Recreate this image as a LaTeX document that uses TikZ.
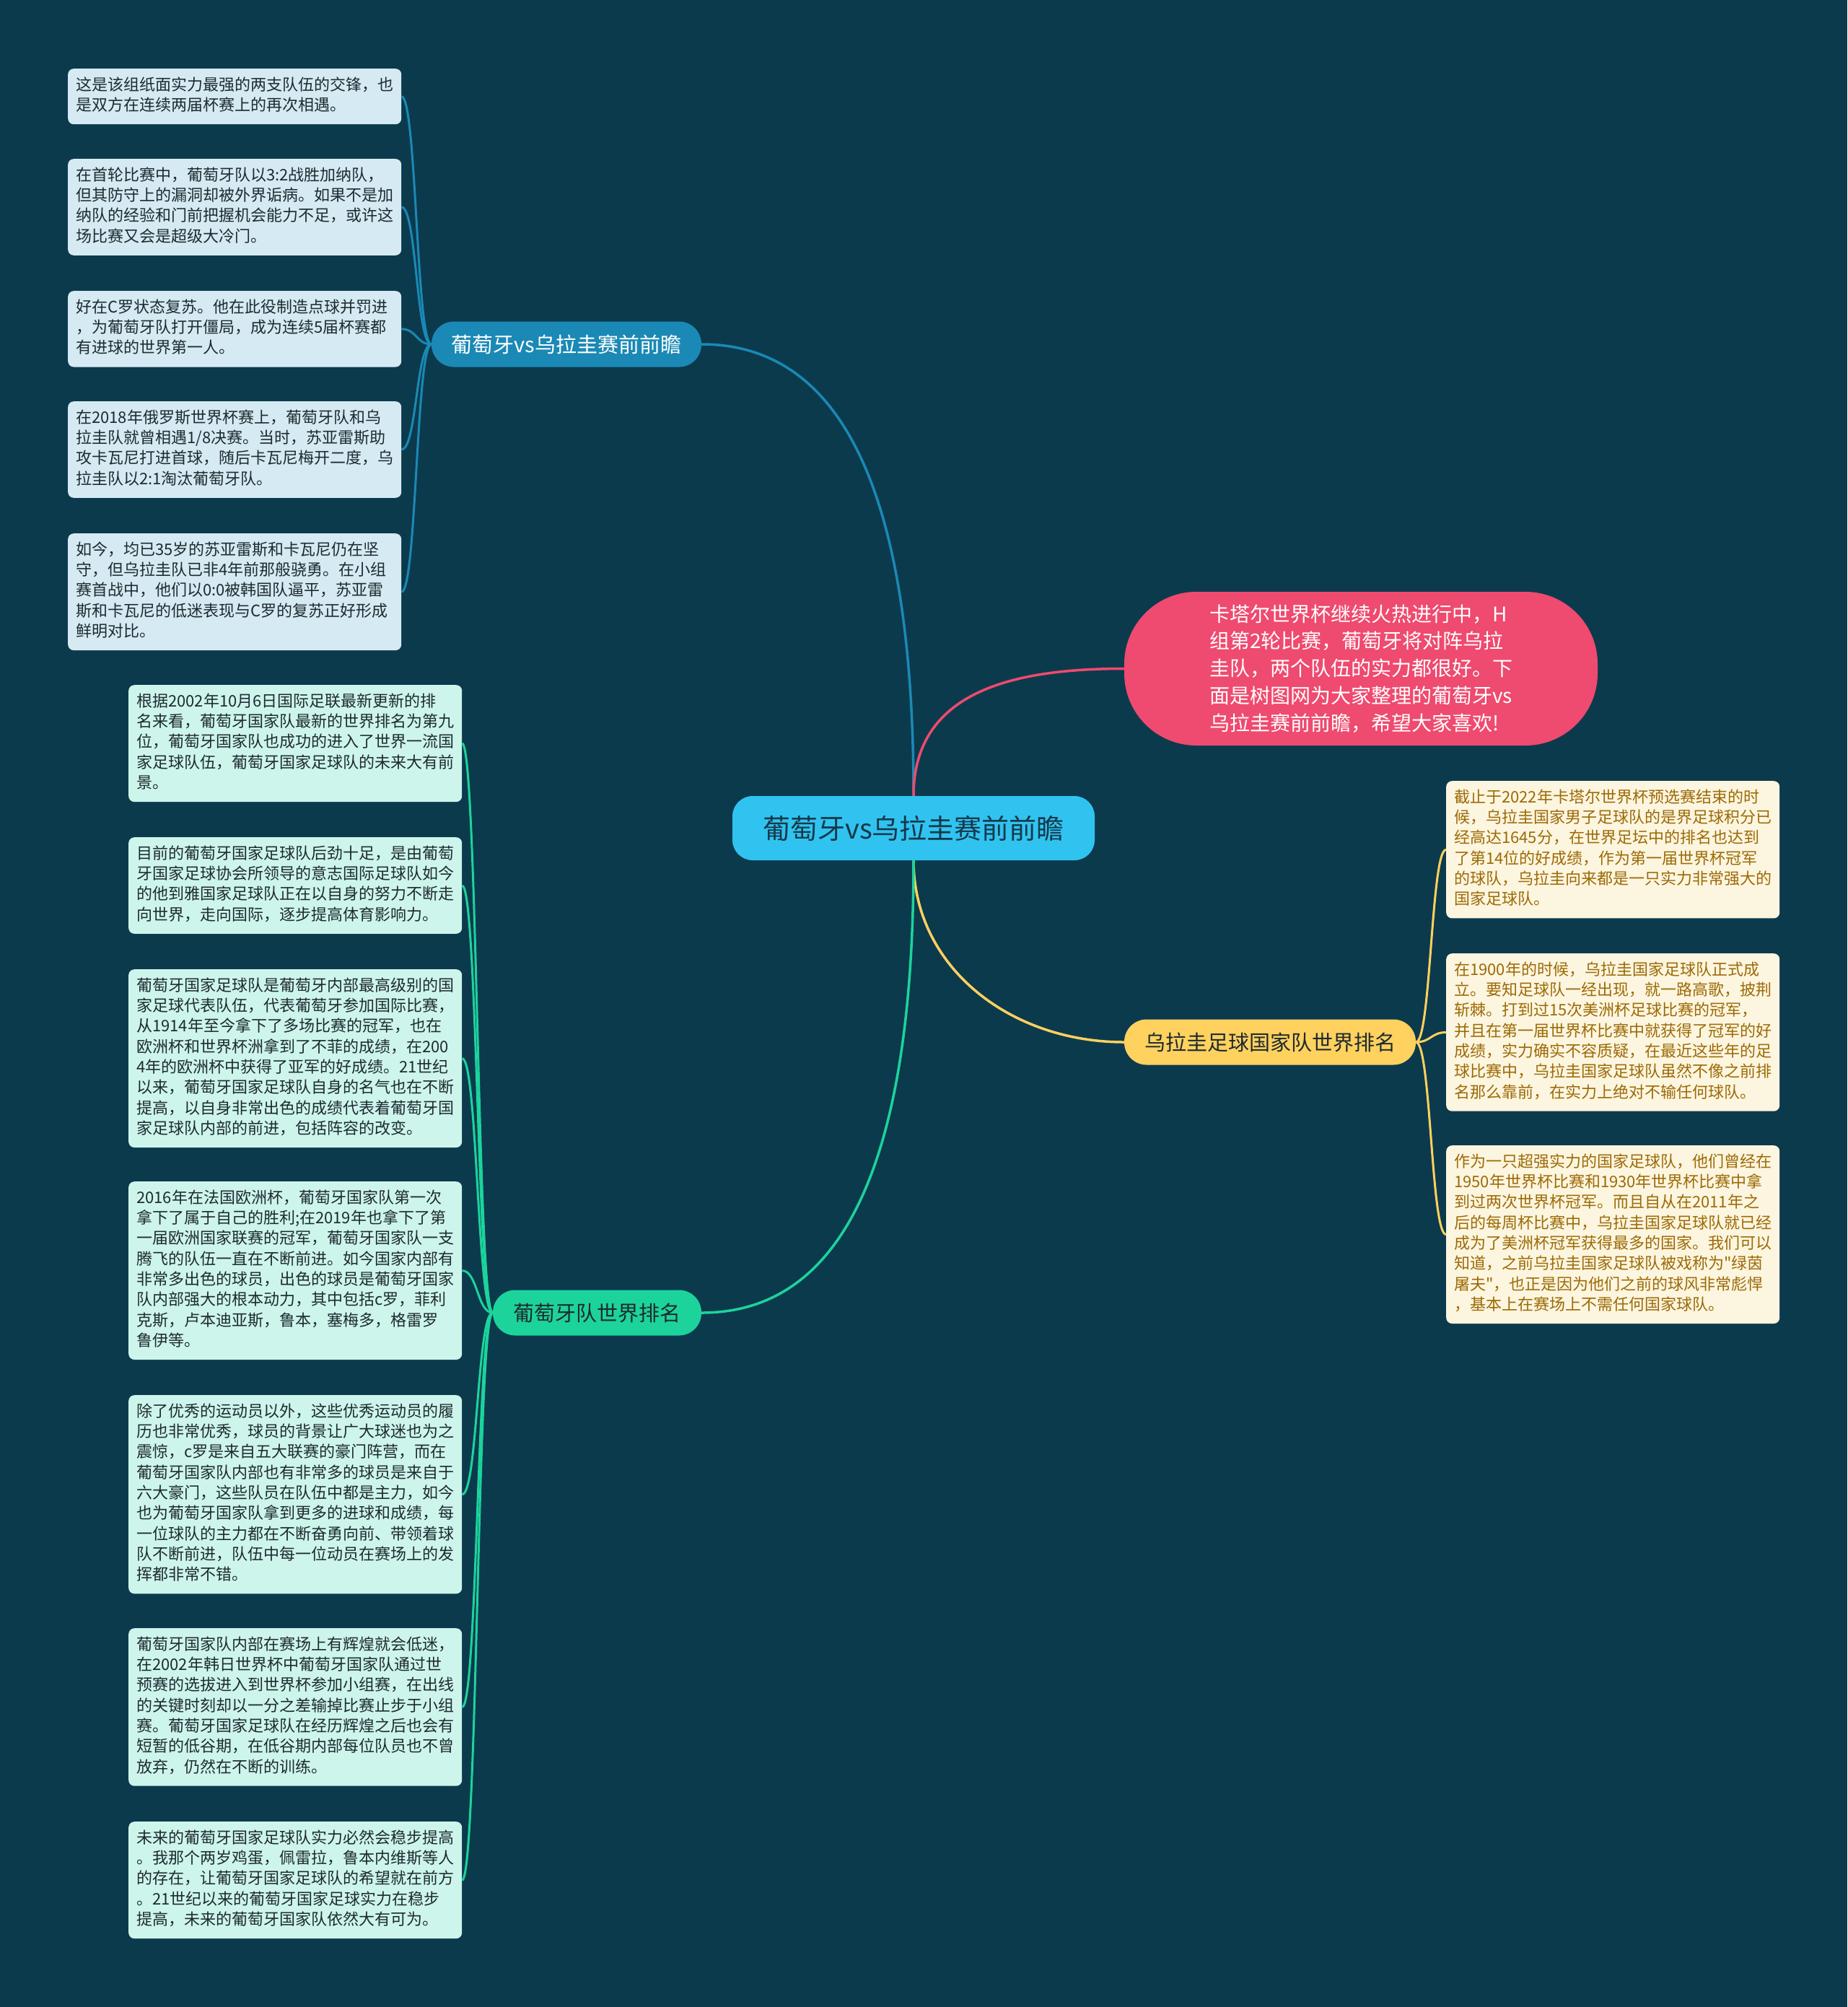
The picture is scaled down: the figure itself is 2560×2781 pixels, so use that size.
\documentclass[tikz,border=0pt]{standalone}
\usepackage{fontspec}
\setmainfont{Noto Sans CJK SC}[Ligatures=TeXOff]
\definecolor{bg}{HTML}{0C3A4D}
\definecolor{rootc}{HTML}{30C3F0}
\definecolor{roottext}{HTML}{15384A}
\definecolor{introc}{HTML}{EF4A6F}
\definecolor{bluec}{HTML}{1A89B5}
\definecolor{yellowc}{HTML}{FFD15E}
\definecolor{greenc}{HTML}{1CD39C}
\definecolor{bleafc}{HTML}{D5EAF2}
\definecolor{gleafc}{HTML}{CDF5EC}
\definecolor{yleafc}{HTML}{FCF5DF}
\definecolor{darktext}{HTML}{1E2A30}
\definecolor{goldtext}{HTML}{9C6A06}
\tikzset{
  leaf/.style={rounded corners=8pt, text width=440pt, inner xsep=11pt, inner ysep=10.2pt,
    align=left, anchor=north west, font=\fontsize{22}{28.3}\selectfont,
    execute at begin node=\strut, execute at end node=\strut},
  bleaf/.style={leaf, fill=bleafc, text=darktext},
  gleaf/.style={leaf, fill=gleafc, text=darktext},
  yleaf/.style={leaf, fill=yleafc, text=goldtext},
  branchnode/.style={rounded corners=31pt, minimum height=63pt, inner sep=0pt,
    font=\fontsize{29}{34}\selectfont},
  mainnode/.style={rounded corners=28pt, fill=rootc, text=roottext, minimum width=502pt,
    minimum height=89pt, inner sep=0pt, font=\fontsize{38}{44}\selectfont},
  intronode/.style={rounded corners=100pt, fill=introc, text=white, minimum width=656pt,
    minimum height=213pt, inner sep=0pt, align=left, font=\fontsize{28}{37.8}\selectfont},
  mainlink/.style={line width=3.5pt},
  leaflink/.style={line width=3pt},
}
\begin{document}
\begin{tikzpicture}[x=1pt,y=-1pt]
\fill[bg] (0,0) rectangle (2560,2781);
\useasboundingbox (0,0) rectangle (2560,2781);

% main nodes
\node[mainnode] (root) at (1266,1147.5) {葡萄牙vs乌拉圭赛前前瞻};
\node[intronode] (intro) at (1886,926.5) {卡塔尔世界杯继续火热进行中，H\\组第2轮比赛，葡萄牙将对阵乌拉\\圭队，两个队伍的实力都很好。下\\面是树图网为大家整理的葡萄牙vs\\乌拉圭赛前前瞻，希望大家喜欢!};
\node[branchnode, fill=bluec, text=white, minimum width=374pt] (br1) at (785,477) {葡萄牙vs乌拉圭赛前前瞻};
\node[branchnode, fill=yellowc, text=darktext, minimum width=404pt] (br2) at (1760,1444) {乌拉圭足球国家队世界排名};
\node[branchnode, fill=greenc, text=darktext, minimum width=289pt] (br3) at (827.5,1819) {葡萄牙队世界排名};

% blue leaves
\node[bleaf] (b1) at (94,95) {这是该组纸面实力最强的两支队伍的交锋，也\\是双方在连续两届杯赛上的再次相遇。};
\node[bleaf] (b2) at (94,220) {在首轮比赛中，葡萄牙队以3:2战胜加纳队，\\但其防守上的漏洞却被外界诟病。如果不是加\\纳队的经验和门前把握机会能力不足，或许这\\场比赛又会是超级大冷门。};
\node[bleaf] (b3) at (94,403) {好在C罗状态复苏。他在此役制造点球并罚进\\，为葡萄牙队打开僵局，成为连续5届杯赛都\\有进球的世界第一人。};
\node[bleaf] (b4) at (94,556) {在2018年俄罗斯世界杯赛上，葡萄牙队和乌\\拉圭队就曾相遇1/8决赛。当时，苏亚雷斯助\\攻卡瓦尼打进首球，随后卡瓦尼梅开二度，乌\\拉圭队以2:1淘汰葡萄牙队。};
\node[bleaf] (b5) at (94,739) {如今，均已35岁的苏亚雷斯和卡瓦尼仍在坚\\守，但乌拉圭队已非4年前那般骁勇。在小组\\赛首战中，他们以0:0被韩国队逼平，苏亚雷\\斯和卡瓦尼的低迷表现与C罗的复苏正好形成\\鲜明对比。};

% green leaves
\node[gleaf] (g1) at (178,949) {根据2002年10月6日国际足联最新更新的排\\名来看，葡萄牙国家队最新的世界排名为第九\\位，葡萄牙国家队也成功的进入了世界一流国\\家足球队伍，葡萄牙国家足球队的未来大有前\\景。};
\node[gleaf] (g2) at (178,1160) {目前的葡萄牙国家足球队后劲十足，是由葡萄\\牙国家足球协会所领导的意志国际足球队如今\\的他到雅国家足球队正在以自身的努力不断走\\向世界，走向国际，逐步提高体育影响力。};
\node[gleaf] (g3) at (178,1343) {葡萄牙国家足球队是葡萄牙内部最高级别的国\\家足球代表队伍，代表葡萄牙参加国际比赛，\\从1914年至今拿下了多场比赛的冠军，也在\\欧洲杯和世界杯洲拿到了不菲的成绩，在200\\4年的欧洲杯中获得了亚军的好成绩。21世纪\\以来，葡萄牙国家足球队自身的名气也在不断\\提高，以自身非常出色的成绩代表着葡萄牙国\\家足球队内部的前进，包括阵容的改变。};
\node[gleaf] (g4) at (178,1637) {2016年在法国欧洲杯，葡萄牙国家队第一次\\拿下了属于自己的胜利;在2019年也拿下了第\\一届欧洲国家联赛的冠军，葡萄牙国家队一支\\腾飞的队伍一直在不断前进。如今国家内部有\\非常多出色的球员，出色的球员是葡萄牙国家\\队内部强大的根本动力，其中包括c罗，菲利\\克斯，卢本迪亚斯，鲁本，塞梅多，格雷罗\\鲁伊等。};
\node[gleaf] (g5) at (178,1933) {除了优秀的运动员以外，这些优秀运动员的履\\历也非常优秀，球员的背景让广大球迷也为之\\震惊，c罗是来自五大联赛的豪门阵营，而在\\葡萄牙国家队内部也有非常多的球员是来自于\\六大豪门，这些队员在队伍中都是主力，如今\\也为葡萄牙国家队拿到更多的进球和成绩，每\\一位球队的主力都在不断奋勇向前、带领着球\\队不断前进，队伍中每一位动员在赛场上的发\\挥都非常不错。};
\node[gleaf] (g6) at (178,2256) {葡萄牙国家队内部在赛场上有辉煌就会低迷，\\在2002年韩日世界杯中葡萄牙国家队通过世\\预赛的选拔进入到世界杯参加小组赛，在出线\\的关键时刻却以一分之差输掉比赛止步于小组\\赛。葡萄牙国家足球队在经历辉煌之后也会有\\短暂的低谷期，在低谷期内部每位队员也不曾\\放弃，仍然在不断的训练。};
\node[gleaf] (g7) at (178,2524) {未来的葡萄牙国家足球队实力必然会稳步提高\\。我那个两岁鸡蛋，佩雷拉，鲁本内维斯等人\\的存在，让葡萄牙国家足球队的希望就在前方\\。21世纪以来的葡萄牙国家足球实力在稳步\\提高，未来的葡萄牙国家队依然大有可为。};

% yellow leaves
\node[yleaf] (y1) at (2004,1082) {截止于2022年卡塔尔世界杯预选赛结束的时\\候，乌拉圭国家男子足球队的是界足球积分已\\经高达1645分，在世界足坛中的排名也达到\\了第14位的好成绩，作为第一届世界杯冠军\\的球队，乌拉圭向来都是一只实力非常强大的\\国家足球队。};
\node[yleaf] (y2) at (2004,1321) {在1900年的时候，乌拉圭国家足球队正式成\\立。要知足球队一经出现，就一路高歌，披荆\\斩棘。打到过15次美洲杯足球比赛的冠军，\\并且在第一届世界杯比赛中就获得了冠军的好\\成绩，实力确实不容质疑，在最近这些年的足\\球比赛中，乌拉圭国家足球队虽然不像之前排\\名那么靠前，在实力上绝对不输任何球队。};
\node[yleaf] (y3) at (2004,1587) {作为一只超强实力的国家足球队，他们曾经在\\1950年世界杯比赛和1930年世界杯比赛中拿\\到过两次世界杯冠军。而且自从在2011年之\\后的每周杯比赛中，乌拉圭国家足球队就已经\\成为了美洲杯冠军获得最多的国家。我们可以\\知道，之前乌拉圭国家足球队被戏称为"绿茵\\屠夫"，也正是因为他们之前的球风非常彪悍\\，基本上在赛场上不需任何国家球队。};

% main connectors
\draw[mainlink, bluec] (root.north) .. controls +(0,-482) and +(163,0) .. (br1.east);
\draw[mainlink, introc] (root.north) .. controls +(0,-143) and +(-158,0) .. (intro.west);
\draw[mainlink, yellowc] (root.south) .. controls +(0,148) and +(-158,0) .. (br2.west);
\draw[mainlink, greenc] (root.south) .. controls +(0,483) and +(163,0) .. (br3.east);

% leaf connectors
\foreach \n in {b1,b2,b3,b4,b5}
  \draw[leaflink, bluec] (br1.west) .. controls +(-21,0) and +(21,0) .. (\n.east);
\foreach \n in {g1,g2,g3,g4,g5,g6,g7}
  \draw[leaflink, greenc] (br3.west) .. controls +(-21.5,0) and +(21.5,0) .. (\n.east);
\foreach \n in {y1,y2,y3}
  \draw[leaflink, yellowc] (br2.east) .. controls +(21,0) and +(-21,0) .. (\n.west);
\end{tikzpicture}
\end{document}
